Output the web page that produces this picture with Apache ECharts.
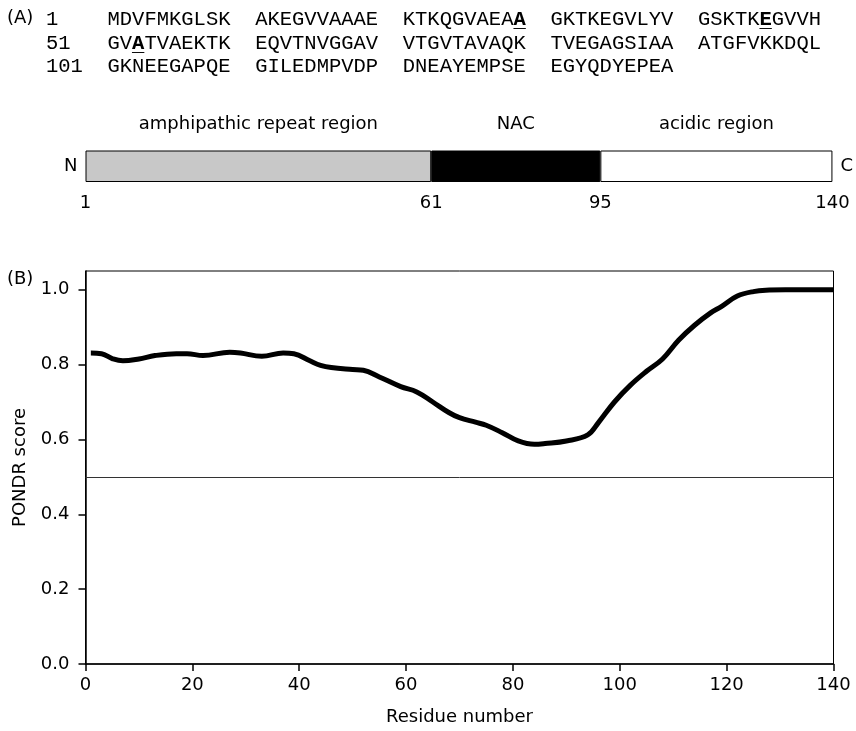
<!DOCTYPE html>
<html><head><meta charset="utf-8">
<script src="https://cdn.jsdelivr.net/npm/echarts@6/dist/echarts.min.js"></script>
<style>html,body{margin:0;padding:0;background:#fff}#c{width:856px;height:731px}</style>
</head><body><div id="c"></div>
<script>
// ---- data ----
const sequence = "MDVFMKGLSKAKEGVVAAAEKTKQGVAEAAGKTKEGVLYVGSKTKEGVVHGVATVAEKTKEQVTNVGGAVVTGVTAVAQKTVEGAGSIAAATGFVKKDQLGKNEEGAPQEGILEDMPVDPDNEAYEMPSEEGYQDYEPEA";
const mutationSites = [30, 46, 53];
const regionNames = ['amphipathic repeat region', 'NAC', 'acidic region'];
const regionEdgeLabels = ['1', '61', '95', '140'];
const regionEdges = [0, 64.8, 96.5, 140];
const residues = [1, 3, 5, 7, 10, 13, 17, 19, 22, 27, 29, 33, 37, 39, 42, 44, 46, 50, 52, 55, 59, 62, 65, 68, 70, 73, 75, 78, 81, 84, 86, 90, 94, 96, 99, 102, 105, 108, 111, 114, 117, 119, 122, 125, 128, 131, 135, 140];
const scores = [0.831, 0.829, 0.816, 0.810, 0.815, 0.824, 0.829, 0.829, 0.824, 0.833, 0.831, 0.822, 0.831, 0.829, 0.810, 0.798, 0.792, 0.787, 0.785, 0.767, 0.741, 0.727, 0.700, 0.672, 0.658, 0.646, 0.638, 0.618, 0.596, 0.587, 0.589, 0.596, 0.612, 0.645, 0.700, 0.745, 0.782, 0.815, 0.865, 0.905, 0.938, 0.955, 0.983, 0.995, 0.999, 1.0, 1.0, 1.0];
const threshold = 0.5;
const yTicks = [0, 0.2, 0.4, 0.6, 0.8, 1.0];
const xAxisName = 'Residue number';
const yAxisName = 'PONDR score';

// ---- styles ----
const regionColors = ['#c8c8c8', '#000000', '#ffffff'];
const SANS = 'DejaVu Sans';
const MONO = 'Liberation Mono';

// build sequence rows (rich text)
const rowsRich = [], rowsUnder = [];
for (let r = 0; r < 3; r++) {
  const start = r * 50;
  let plain = String(start + 1).padEnd(5, ' ');
  const idxMap = [];
  for (let i = start; i < Math.min(start + 50, sequence.length); i++) {
    const k = i - start;
    if (k > 0 && k % 10 === 0) plain += '  ';
    idxMap.push([plain.length, i + 1]);
    plain += sequence[i];
  }
  const boldPos = idxMap.filter(p => mutationSites.includes(p[1])).map(p => p[0]);
  let rich = '', under = '', buf = '';
  for (let c = 0; c < plain.length; c++) {
    if (boldPos.includes(c)) {
      if (buf) rich += '{n|' + buf + '}';
      buf = '';
      rich += '{b|' + plain[c] + '}';
      under += '_';
    } else {
      buf += plain[c];
      under += ' ';
    }
  }
  if (buf) rich += '{n|' + buf + '}';
  rowsRich.push(rich);
  rowsUnder.push(under.replace(/\s+$/, ''));
}

const rowY = [20, 43.5, 67];
const graphics = [
  { type: 'text', left: 7, top: 9, style: { text: '(A)', font: '18px "' + SANS + '"', fill: '#000' } },
  { type: 'text', left: 7, top: 270, style: { text: '(B)', font: '18px "' + SANS + '"', fill: '#000' } }
];
rowsRich.forEach((t, i) => {
  graphics.push({ type: 'text', x: 46, y: rowY[i], style: {
    text: t, verticalAlign: 'middle', fill: '#000',
    rich: {
      n: { fontFamily: MONO, fontSize: 20.5, fill: '#000' },
      b: { fontFamily: MONO, fontSize: 20.5, fontWeight: 'bold', fill: '#000' }
    }
  } });
  if (rowsUnder[i].length) graphics.push({ type: 'text', x: 46, y: rowY[i] + 2, style: {
    text: rowsUnder[i], verticalAlign: 'middle', fill: '#000', font: 'bold 20.5px "' + MONO + '"'
  } });
});

const labelFont = { fontFamily: SANS, fontSize: 18, color: '#000' };

const barSeries = regionNames.map((name, i) => ({
  type: 'bar', xAxisIndex: 1, yAxisIndex: 1, stack: 'regions', barWidth: '100%',
  data: [+(regionEdges[i + 1] - regionEdges[i]).toFixed(2)],
  itemStyle: { color: regionColors[i], borderColor: '#000', borderWidth: 1 },
  label: { show: true, position: 'top', distance: 17, formatter: name, ...labelFont },
  silent: true
}));

const chart = echarts.init(document.getElementById('c'), null, { renderer: 'canvas' });
chart.setOption({
  animation: false,
  backgroundColor: '#fff',
  graphic: graphics,
  grid: [
    { left: 85.5, right: 22.5, top: 271, bottom: 66.7, show: true, borderColor: '#000', borderWidth: 1, backgroundColor: 'transparent' },
    { left: 85.5, right: 22.5, top: 150.5, height: 31.5 }
  ],
  xAxis: [
    { gridIndex: 0, type: 'value', min: 0, max: 140, interval: 20,
      axisLine: { lineStyle: { color: '#000', width: 1.5 } },
      axisTick: { show: true, length: 7, lineStyle: { color: '#000', width: 1.5 } },
      axisLabel: { ...labelFont, margin: 12 },
      splitLine: { show: false },
      name: xAxisName, nameLocation: 'middle', nameGap: 44, nameTextStyle: labelFont },
    { gridIndex: 1, type: 'value', min: 0, max: 140,
      axisLine: { show: false }, axisTick: { show: false }, splitLine: { show: false },
      axisLabel: { ...labelFont, margin: 12, customValues: regionEdges,
        formatter: v => regionEdgeLabels[regionEdges.indexOf(v)] } }
  ],
  yAxis: [
    { gridIndex: 0, type: 'value', min: 0, max: 1.05,
      axisLine: { show: true, lineStyle: { color: '#000', width: 1.5 } },
      axisTick: { show: true, length: 7, customValues: yTicks, lineStyle: { color: '#000', width: 1.5 } },
      axisLabel: { ...labelFont, margin: 16, customValues: yTicks, formatter: v => v.toFixed(1) },
      splitLine: { show: false },
      name: yAxisName, nameLocation: 'middle', nameGap: 56, nameTextStyle: labelFont },
    { gridIndex: 1, type: 'category', data: ['N'], position: 'left',
      axisLine: { show: false }, axisTick: { show: false }, axisLabel: { ...labelFont, margin: 8 } },
    { gridIndex: 1, type: 'category', data: ['C'], position: 'right',
      axisLine: { show: false }, axisTick: { show: false }, axisLabel: { ...labelFont, margin: 8 } }
  ],
  series: [
    ...barSeries,
    { type: 'line', xAxisIndex: 0, yAxisIndex: 0,
      data: residues.map((r, i) => [r, scores[i]]),
      smooth: 0.4, showSymbol: false, symbol: 'none',
      lineStyle: { color: '#000', width: 5 },
      markLine: { silent: true, symbol: 'none', label: { show: false },
        lineStyle: { color: '#333', width: 1, type: 'solid' },
        data: [{ yAxis: threshold }] } }
  ]
});
</script>
</body></html>
